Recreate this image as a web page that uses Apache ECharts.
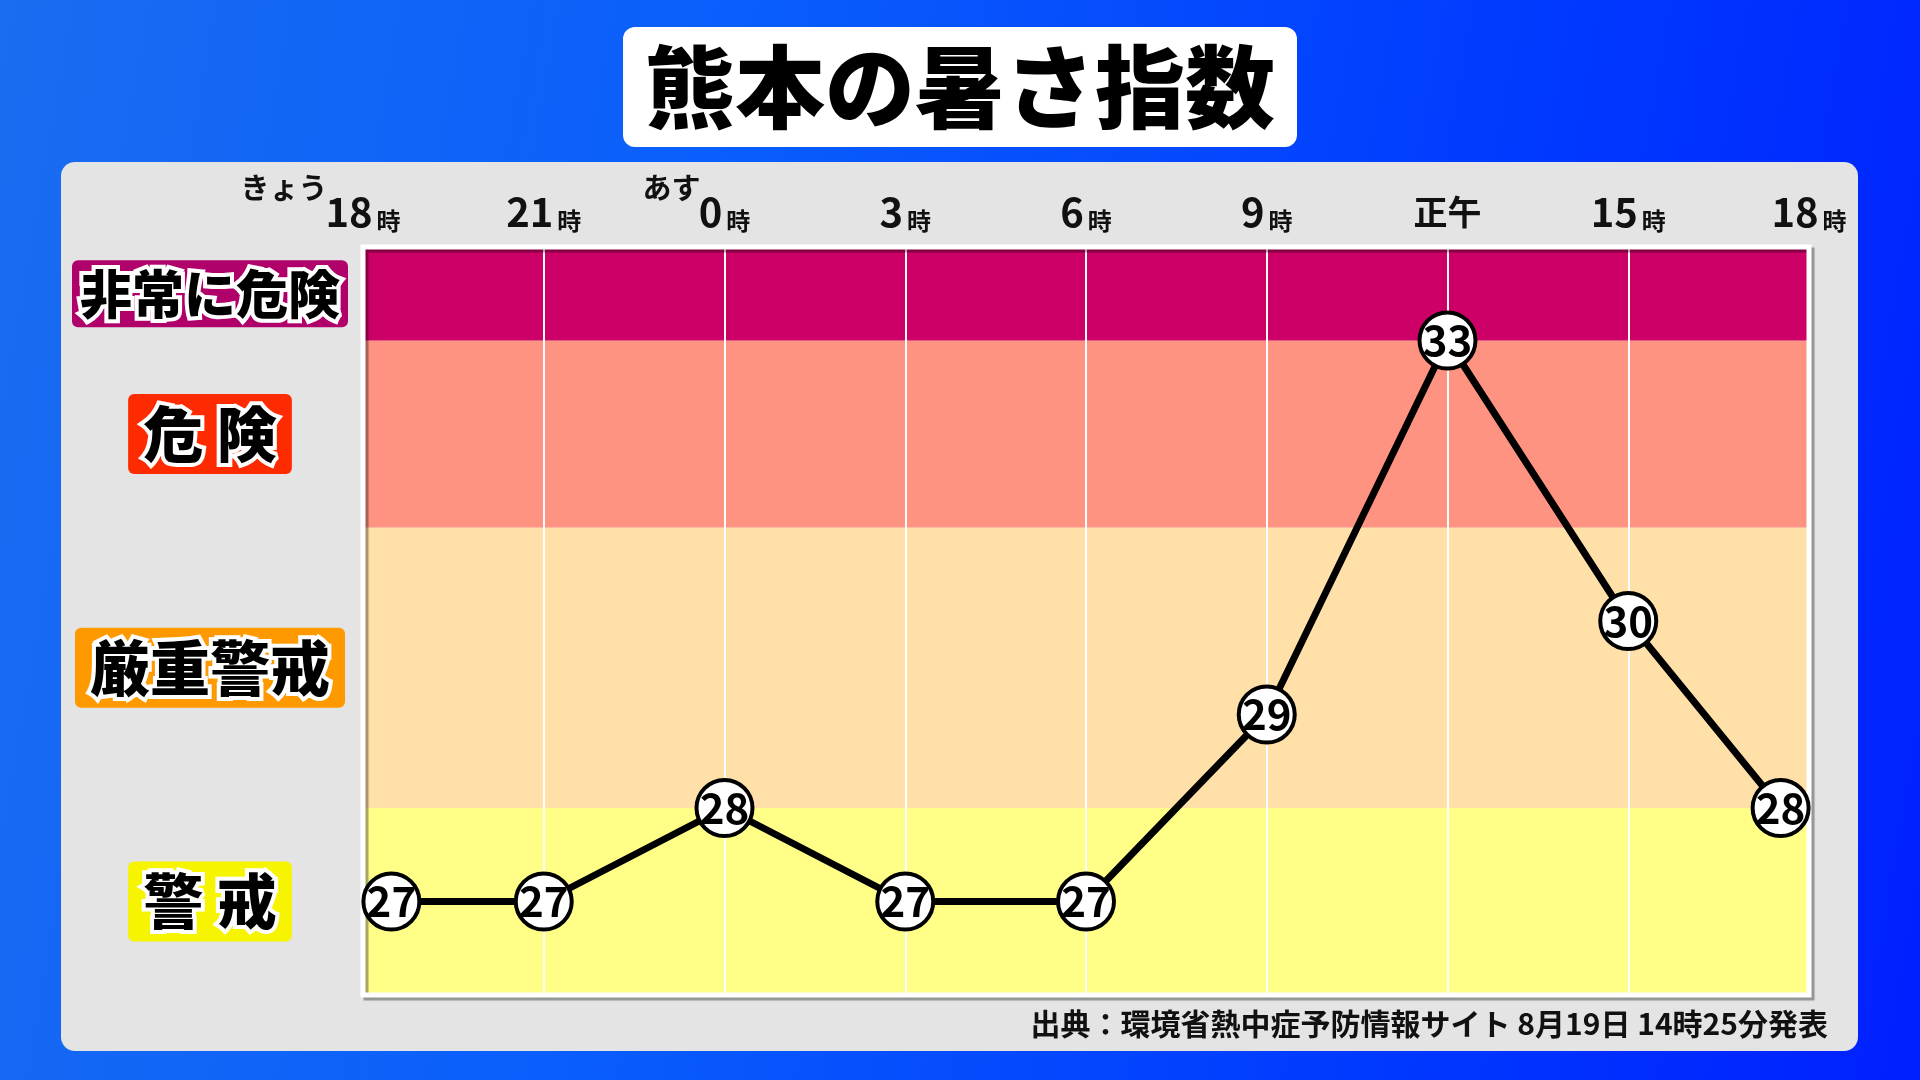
<!DOCTYPE html>
<html>
<head>
<meta charset="utf-8">
<title>熊本の暑さ指数</title>
<script src="https://cdn.jsdelivr.net/npm/echarts@6/dist/echarts.min.js"></script>
<style>
  html, body { margin: 0; padding: 0; }
  body {
    width: 1920px; height: 1080px; overflow: hidden;
    background: linear-gradient(100deg, #1a6cf0 0%, #0a5efc 35%, #0038ff 75%, #0020ff 100%);
  }
  #chart { width: 1920px; height: 1080px; }
</style>
</head>
<body>
<div id="chart"></div>
<script>
let chart = echarts.init(document.getElementById('chart'), null, { renderer: 'canvas' })

const FONT = "'Noto Sans CJK JP', 'Noto Sans', sans-serif"

// 時刻（上の目盛）と日付の添え字
const hourLabels = ['18時', '21時', '0時', '3時', '6時', '9時', '正午', '15時', '18時']
const dayTags = ['きょう', '', 'あす', '', '', '', '', '', '']

// 暑さ指数（WBGT）
const wbgt = [27, 27, 28, 27, 27, 29, 33, 30, 28]

// 危険度の帯
const bandNames = ['警 戒', '厳重警戒', '危 険', '非常に危険']
const bandFrom = [26, 28, 31, 33]
const bandTo = [28, 31, 33, 34]
const bandFill = ['#ffff88', '#ffe0a8', '#ff9381', '#cc0066']
const bandTagColor = ['#f6f400', '#ff9900', '#ff2b00', '#b0006a']

const sourceText = '出典：環境省熱中症予防情報サイト 8月19日 14時25分発表'

// 両端の丸は枠の内側に収める（目盛の間隔に対する割合）
const edgePad = 0.157
const lastIdx = hourLabels.length - 1
const clampX = i => Math.min(Math.max(i, edgePad), lastIdx - edgePad)

let bandRich = {}
bandNames.forEach((name, i) => {
  let small = name.length > 4
  bandRich['b' + i] = {
    fontFamily: FONT,
    fontSize: small ? 52 : 60,
    fontWeight: 900,
    lineHeight: small ? 54 : 62,
    color: '#000',
    textBorderColor: '#fff',
    textBorderWidth: 8,
    backgroundColor: bandTagColor[i],
    borderRadius: 6,
    padding: small ? [8, 8, 7, 8] : [10, 15, 10, 15]
  }
})

let option = {
  animation: false,
  title: {
    text: '熊本の暑さ指数',
    left: 'center',
    top: 27,
    backgroundColor: '#fff',
    borderRadius: 12,
    padding: [15, 22, 15, 22],
    textStyle: {
      fontFamily: FONT,
      fontSize: 90,
      fontWeight: 900,
      color: '#000',
      lineHeight: 90
    }
  },
  graphic: [
    {
      type: 'rect',
      z: -10,
      shape: { x: 61, y: 162, width: 1797, height: 889, r: 14 },
      style: { fill: '#e4e4e4' }
    },
    {
      type: 'text',
      right: 92,
      top: 1009,
      style: {
        text: sourceText,
        fontFamily: FONT,
        fontSize: 30,
        fontWeight: 'bold',
        fill: '#111'
      }
    }
  ],
  grid: {
    left: 363,
    right: 111,
    top: 247,
    bottom: 85,
    show: true,
    z: 4,
    backgroundColor: 'transparent',
    borderColor: '#fff',
    borderWidth: 5,
    shadowColor: 'rgba(0,0,0,0.35)',
    shadowOffsetX: 3,
    shadowOffsetY: 3,
    shadowBlur: 1
  },
  xAxis: [
    {
      type: 'category',
      position: 'top',
      boundaryGap: false,
      data: hourLabels,
      z: 3,
      axisLine: { show: false },
      axisTick: { show: false },
      splitLine: { show: true, lineStyle: { color: '#fff', width: 2 } },
      axisLabel: {
        interval: 0,
        margin: 14,
        color: '#111',
        formatter: function (value, index) {
          let main
          let m = value.match(/^(\d+)(時)$/)
          if (m) {
            main = '{num|' + m[1] + '}{unit|' + m[2] + '}'
          } else {
            main = '{noon|' + value + '}'
          }
          if (dayTags[index]) {
            return '{pre' + index + '|' + dayTags[index] + '}\n' + main
          }
          return main
        },
        rich: {
          num: { fontFamily: FONT, fontSize: 40, fontWeight: 'bold', lineHeight: 42, color: '#111' },
          unit: { fontFamily: FONT, fontSize: 24, fontWeight: 'bold', lineHeight: 42, color: '#111', padding: [0, 0, 0, 4], verticalAlign: 'bottom' },
          noon: { fontFamily: FONT, fontSize: 34, fontWeight: 'bold', lineHeight: 42, color: '#111' },
          pre0: { fontFamily: FONT, fontSize: 29, fontWeight: 'bold', lineHeight: 6, color: '#111', padding: [0, 158, 0, 0] },
          pre2: { fontFamily: FONT, fontSize: 29, fontWeight: 'bold', lineHeight: 6, color: '#111', padding: [0, 106, 0, 0] }
        }
      }
    },
    {
      type: 'value',
      show: false,
      min: 0,
      max: lastIdx
    }
  ],
  yAxis: {
    type: 'value',
    min: 26,
    max: 34,
    interval: 0.5,
    axisLine: { show: false },
    axisTick: { show: false },
    splitLine: { show: false },
    axisLabel: {
      align: 'center',
      margin: 153,
      formatter: function (value) {
        for (let i = 0; i < bandNames.length; i++) {
          if ((bandFrom[i] + bandTo[i]) / 2 === value) {
            return '{b' + i + '|' + bandNames[i] + '}'
          }
        }
        return ''
      },
      rich: bandRich
    }
  },
  series: [
    {
      name: 'bands',
      type: 'line',
      xAxisIndex: 1,
      z: 1,
      data: [],
      silent: true,
      markArea: {
        silent: true,
        data: bandNames.map((name, i) => [
          { yAxis: bandFrom[i], itemStyle: { color: bandFill[i] } },
          { yAxis: bandTo[i] }
        ])
      }
    },
    {
      name: '暑さ指数',
      type: 'line',
      xAxisIndex: 1,
      z: 6,
      data: wbgt.map((v, i) => [clampX(i), v]),
      symbol: 'circle',
      symbolSize: 56,
      lineStyle: { color: '#000', width: 7 },
      itemStyle: { color: '#fff', borderColor: '#000', borderWidth: 4 },
      label: {
        show: true,
        position: 'inside',
        formatter: p => p.value[1],
        fontFamily: FONT,
        fontSize: 42,
        fontWeight: 'bold',
        color: '#000'
      }
    }
  ]
}

chart.setOption(option)
</script>
</body>
</html>
